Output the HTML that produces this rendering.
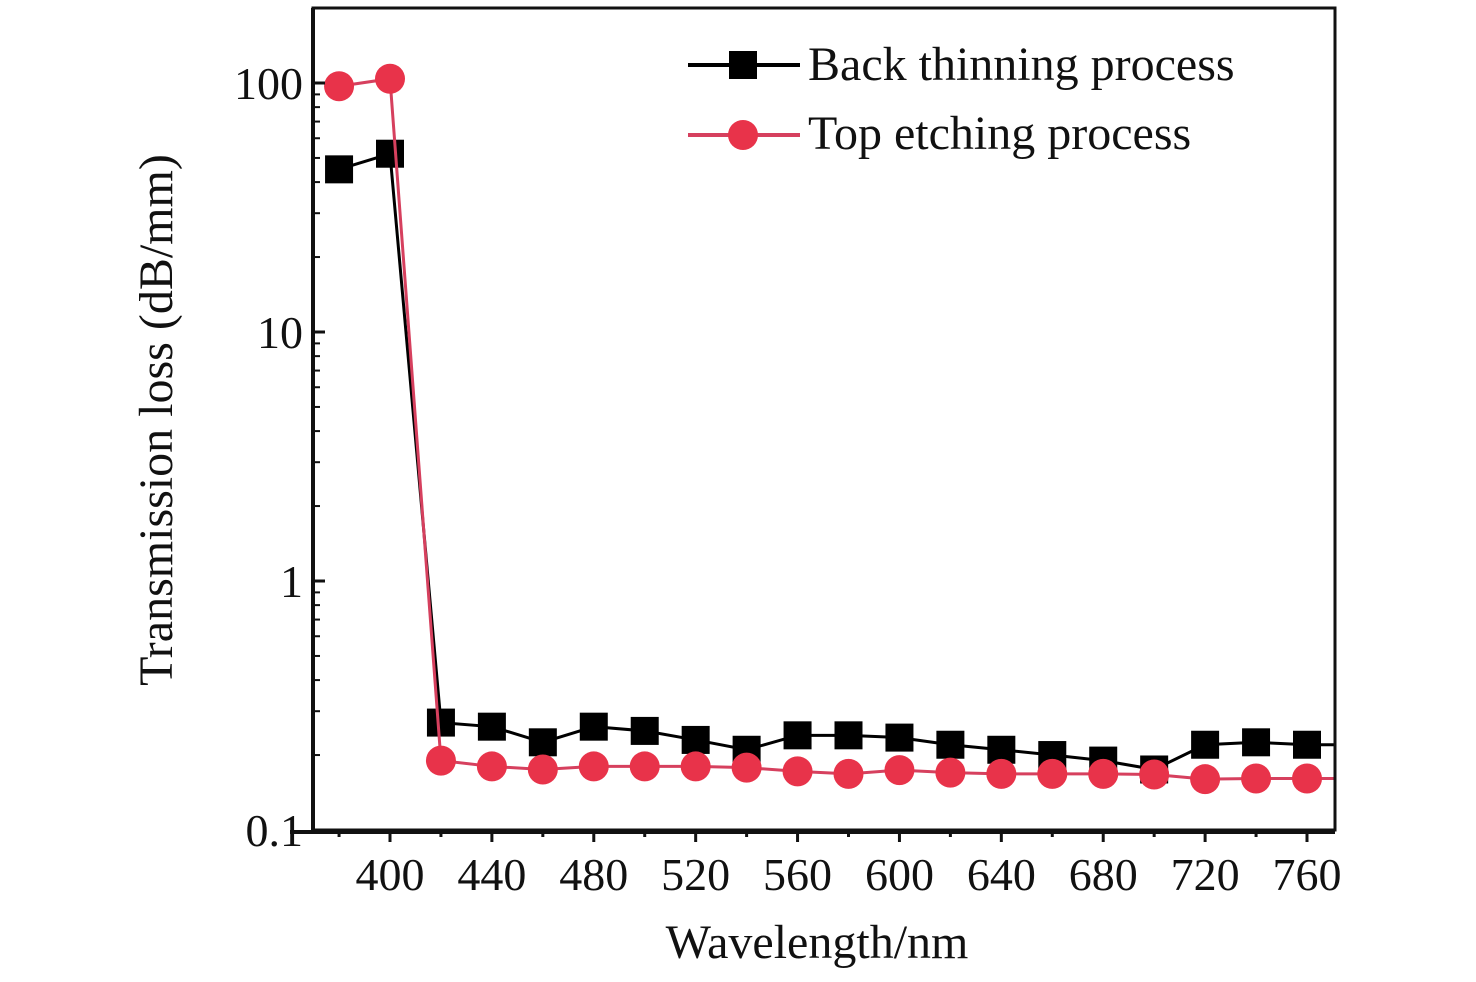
<!DOCTYPE html>
<html><head><meta charset="utf-8"><style>
body{margin:0;background:#fff;}
svg text{font-family:"Liberation Serif",serif;fill:#111;}
</style></head><body>
<svg width="1476" height="977" viewBox="0 0 1476 977" xmlns="http://www.w3.org/2000/svg">
<defs><clipPath id="pc"><rect x="313" y="8" width="1022" height="822"/></clipPath></defs>
<g id="plot"></g>
</svg>
<script>
const wavelengths=[380,400,420,440,460,480,500,520,540,560,580,600,620,640,660,680,700,720,740,760,780];
const backThinning=[45,52,0.27,0.26,0.225,0.26,0.25,0.23,0.21,0.24,0.24,0.235,0.22,0.21,0.2,0.19,0.175,0.22,0.225,0.22,0.22];
const topEtching=[97,104,0.19,0.18,0.175,0.18,0.18,0.18,0.178,0.172,0.168,0.174,0.17,0.168,0.168,0.168,0.167,0.16,0.161,0.161,0.161];
const xTicks=[400,440,480,520,560,600,640,680,720,760];
const yTicks=[0.1,1,10,100];
const yTickLabels=["0.1","1","10","100"];
const L=313,R=1335,T=8,B=830;
const xs=v=>390+(v-400)*(1307-390)/360;
const ys=v=>830-(Math.log10(v)+1)*249;
const NS="http://www.w3.org/2000/svg";
const g=document.getElementById('plot');
function mk(t,a,p){const e=document.createElementNS(NS,t);for(const k in a)e.setAttribute(k,a[k]);(p||g).appendChild(e);return e;}
// series
function series(vals,color,lineColor,shape,name){
  const gg=mk('g',{'clip-path':'url(#pc)'});
  
  
  mk('polyline',{points:wavelengths.map((w,i)=>xs(w)+','+ys(vals[i])).join(' '),fill:'none',stroke:lineColor,'stroke-width':3},gg);
  wavelengths.forEach((w,i)=>{
    let m;
    if(shape==='sq')m=mk('rect',{x:xs(w)-14,y:ys(vals[i])-14,width:28,height:28,fill:color},gg);
    else m=mk('circle',{cx:xs(w),cy:ys(vals[i]),r:15,fill:color},gg);
    
    
  });
}
series(backThinning,'#000','#000','sq','back-thinning-series');
series(topEtching,'#e8334a','#d6405e','ci','top-etching-series');
// axes frame
const fr=mk('rect',{x:L,y:T,width:R-L,height:B-T,fill:'none',stroke:'#111','stroke-width':3});

// x ticks
for(let w=380;w<=760;w+=20){
  const major=xTicks.includes(w);
  mk('line',{x1:xs(w),x2:xs(w),y1:B,y2:B+(major?12:7),stroke:'#111','stroke-width':3});
}
mk('line',{x1:290,x2:R,y1:B+2,y2:B+2,stroke:'#111','stroke-width':4});
xTicks.forEach(w=>{const t=mk('text',{x:xs(w),y:890,'font-size':46,'text-anchor':'middle'});t.textContent=w;
  });
// y ticks
mk('line',{x1:L,x2:L,y1:T,y2:B,stroke:'#111','stroke-width':4});
yTicks.forEach((v,i)=>{
  mk('line',{x1:L,x2:L+12,y1:ys(v),y2:ys(v),stroke:'#111','stroke-width':3});
  const t=mk('text',{x:303,y:ys(v)+16,'font-size':46,'text-anchor':'end'});t.textContent=yTickLabels[i];
  
  if(i<yTicks.length-1)for(let k=2;k<=9;k++)mk('line',{x1:L,x2:L+7,y1:ys(v*k),y2:ys(v*k),stroke:'#111','stroke-width':2});
});
for(let k=2;k<=2;k++)mk('line',{x1:L,x2:L+7,y1:ys(100*k),y2:ys(100*k),stroke:'#111','stroke-width':2});
let t=mk('text',{x:817,y:958,'font-size':48,'text-anchor':'middle'});t.textContent='Wavelength/nm';

t=mk('text',{x:0,y:0,'font-size':48,'text-anchor':'middle',transform:'translate(172,420) rotate(-90)'});t.textContent='Transmission loss (dB/mm)';

// legend
const lg=mk('g',{});
mk('line',{x1:688,x2:800,y1:65,y2:65,stroke:'#000','stroke-width':4},lg);
mk('rect',{x:729,y:51,width:28,height:28,fill:'#000'},lg);
t=mk('text',{x:808,y:80,'font-size':48},lg);t.textContent='Back thinning process';

mk('line',{x1:688,x2:800,y1:135,y2:135,stroke:'#d6405e','stroke-width':4},lg);
mk('circle',{cx:743,cy:135,r:15,fill:'#e8334a'},lg);
t=mk('text',{x:808,y:149,'font-size':48},lg);t.textContent='Top etching process';

</script>
</body></html>
